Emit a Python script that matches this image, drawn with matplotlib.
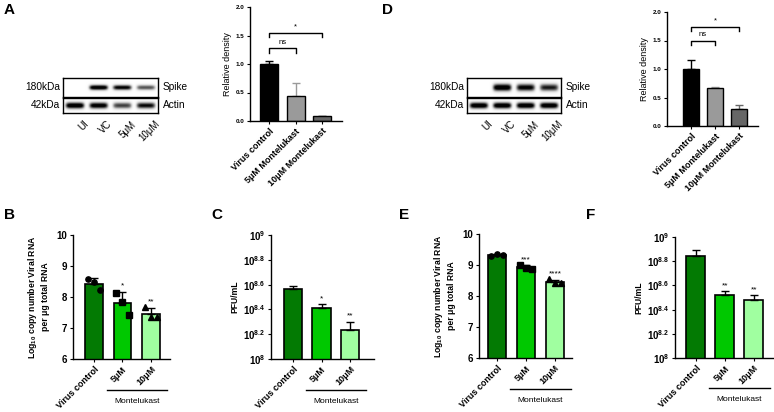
import numpy as np
import matplotlib
matplotlib.use("Agg")
import matplotlib.pyplot as plt
from matplotlib.transforms import blended_transform_factory

plt.rcParams['font.family'] = ['Liberation Sans', 'DejaVu Sans']
plt.rcParams['mathtext.fontset'] = 'custom'
plt.rcParams['mathtext.rm'] = 'Liberation Sans'
plt.rcParams['mathtext.bf'] = 'Liberation Sans:bold'

# western blot band intensities (UI, VC, 5uM, 10uM)
lanes = ['UI', 'VC', '5μM', '10μM']
spike_a = [0.0, 0.95, 0.85, 0.6]
actin_a = [0.95, 0.9, 0.65, 0.8]
spike_d = [0.0, 0.95, 0.85, 0.75]
actin_d = [0.95, 0.95, 0.95, 0.95]

# relative density
dens_groups = ['Virus control', '5μM Montelukast', '10μM Montelukast']
dens_a = [1.0, 0.43, 0.08]
dens_a_sd = [0.06, 0.23, 0.01]
dens_d = [1.0, 0.66, 0.29]
dens_d_sd = [0.16, 0.02, 0.07]

# viral RNA (log10 copies), one list per group
groups = ['Virus control', '5μM', '10μM']
rna_b = [[8.59, 8.48, 8.22], [8.14, 7.84, 7.41], [7.68, 7.36, 7.36]]
rna_e = [[9.30, 9.35, 9.31], [9.00, 8.91, 8.86], [8.54, 8.41, 8.41]]
sig_b = ['', '*', '**']
sig_e = ['', '***', '****']

# PFU/mL (log10 exponent)
pfu_c = [8.566, 8.41, 8.23]
pfu_c_sd = [0.02, 0.03, 0.07]
pfu_f = [8.84, 8.52, 8.48]
pfu_f_sd = [0.05, 0.03, 0.04]
sig_c = ['', '*', '**']
sig_f = ['', '**', '**']

greens = ['#037a03', '#00c800', '#a0ffa0']
greys = ['#000000', '#9a9a9a', '#666666']

W, H = 774, 412
fig = plt.figure(figsize=(W / 100, H / 100), dpi=100)


def box(x0, y0, x1, y1):
    return fig.add_axes([x0 / W, 1 - y1 / H, (x1 - x0) / W, (y1 - y0) / H])


def blot(x0, y0, x1, y1, vals, thick):
    ax = box(x0, y0, x1, y1)
    xs = np.linspace(-0.5, 3.5, 240)
    ys = np.linspace(0, 1, 40)
    X, Y = np.meshgrid(xs, ys)
    img = np.zeros_like(X)
    for i, v in enumerate(vals):
        img += v * np.exp(-((X - i) / 0.4) ** 6) * np.exp(-((Y - 0.5) / thick) ** 2)
    ax.imshow(img, cmap='Greys', vmin=0, vmax=0.8, extent=(-0.5, 3.5, 0, 1),
              aspect='auto', interpolation='bilinear')
    ax.set_xlim(-0.5, 3.5)
    ax.set_ylim(0, 1)
    ax.set_xticks([])
    ax.set_yticks([])
    for s in ax.spines.values():
        s.set_linewidth(1.0)
    return ax


def blot_panel(x0, x1, spike, actin, thick):
    top = blot(x0, 78, x1, 97, spike, thick)
    bot = blot(x0, 98, x1, 113, actin, 0.22)
    top.text(-0.62, 0.5, '180kDa', ha='right', va='center', fontsize=7.3)
    bot.text(-0.62, 0.5, '42kDa', ha='right', va='center', fontsize=7.3)
    top.text(3.7, 0.5, 'Spike', ha='left', va='center', fontsize=7.3)
    bot.text(3.7, 0.5, 'Actin', ha='left', va='center', fontsize=7.3)
    for i, lab in enumerate(lanes):
        bot.text(i + 0.35, -0.4, lab, rotation=45, ha='right', va='top',
                 rotation_mode='anchor', fontsize=7)


def style(ax, lw=1.0):
    for s in ['top', 'right']:
        ax.spines[s].set_visible(False)
    for s in ['left', 'bottom']:
        ax.spines[s].set_linewidth(lw)
    ax.tick_params(length=2.5, width=0.8, pad=1.5)


def dens_panel(ax, vals, sd, xlim, brackets):
    x = np.arange(3)
    ax.bar(x, vals, 0.68, color=greys, edgecolor='black', linewidth=1.0, zorder=2)
    for i in range(3):
        ax.errorbar(x[i], vals[i], yerr=[[0], [sd[i]]], fmt='none',
                    ecolor=greys[i], elinewidth=1.0, capsize=3, capthick=1.0, zorder=1)
    for i, j, y, lab in brackets:
        ax.plot([i, i, j, j], [y - 0.08, y, y, y - 0.08], color='black', lw=1.0)
        ax.text((i + j) / 2, y + 0.04, lab, ha='center', va='bottom', fontsize=5.5)
    ax.set_xlim(*xlim)
    ax.set_ylim(0, 2.0)
    ax.set_yticks([0, 0.5, 1.0, 1.5, 2.0])
    ax.set_yticklabels(['0.0', '0.5', '1.0', '1.5', '2.0'], fontsize=4.5, fontweight='bold')
    ax.set_xticks(x)
    ax.set_xticklabels(dens_groups, rotation=45, ha='right', rotation_mode='anchor',
                       fontsize=6.5, fontweight='bold')
    ax.set_ylabel('Relative density', fontsize=6.5, labelpad=3)
    style(ax)


def montelukast(ax, y_line, y_text):
    tr = blended_transform_factory(ax.transData, ax.transAxes)
    ax.plot([0.45, 2.55], [y_line, y_line], color='black', lw=1.0, transform=tr, clip_on=False)
    ax.text(1.5, y_text, 'Montelukast', transform=tr, ha='center', va='center', fontsize=6)


def rna_panel(ax, pts, sig, xlim):
    x = np.arange(3)
    means = [np.mean(p) for p in pts]
    sds = [np.std(p, ddof=1) for p in pts]
    ax.bar(x, means, 0.63, color=greens, edgecolor='black', linewidth=1.2, zorder=2)
    ax.errorbar(x, means, yerr=[np.zeros(3), sds], fmt='none', ecolor='black',
                elinewidth=1.0, capsize=3, capthick=1.0, zorder=3)
    markers = ['o', 's', '^']
    offs = np.linspace(-0.22, 0.22, 3)
    for i, p in enumerate(pts):
        ax.plot(x[i] + offs, p, markers[i], color='black', ms=3.8, zorder=4)
        ax.annotate(sig[i], (x[i], means[i] + sds[i]), xytext=(0, 1.5),
                    textcoords='offset points', ha='center', va='bottom', fontsize=6)
    ax.set_xlim(*xlim)
    ax.set_ylim(6, 10)
    ax.set_yticks([6, 7, 8, 9, 10])
    ax.set_yticklabels(['6', '7', '8', '9', '10'], fontsize=7, fontweight='bold')
    ax.set_xticks(x)
    ax.set_xticklabels(groups, rotation=45, ha='right', rotation_mode='anchor',
                       fontsize=6.5, fontweight='bold')
    ax.set_ylabel('Log$_{\\mathbf{10}}$ copy number Viral RNA\nper μg total RNA',
                  fontsize=6.2, fontweight='bold', labelpad=5)
    style(ax)
    montelukast(ax, -0.25, -0.34)


def pfu_panel(ax, vals, sd, sig, xlim):
    x = np.arange(3)
    v = 10 ** np.array(vals)
    top = 10 ** (np.array(vals) + np.array(sd))
    ax.set_yscale('log')
    ax.bar(x, v, 0.65, color=greens, edgecolor='black', linewidth=1.2, zorder=2)
    ax.errorbar(x, v, yerr=[np.zeros(3), top - v], fmt='none', ecolor='black',
                elinewidth=1.0, capsize=3, capthick=1.0, zorder=3)
    for i in range(3):
        ax.annotate(sig[i], (x[i], top[i]), xytext=(0, 1.5),
                    textcoords='offset points', ha='center', va='bottom', fontsize=6)
    ax.set_xlim(*xlim)
    ax.set_ylim(1e8, 1e9)
    exps = ['8', '8.2', '8.4', '8.6', '8.8', '9']
    ax.set_yticks([10 ** float(e) for e in exps])
    ax.set_yticklabels(['$\\mathbf{10^{%s}}$' % e for e in exps], fontsize=7)
    ax.minorticks_off()
    ax.set_xticks(x)
    ax.set_xticklabels(groups, rotation=45, ha='right', rotation_mode='anchor',
                       fontsize=6.5, fontweight='bold')
    ax.set_ylabel('PFU/mL', fontsize=6.2, fontweight='bold', labelpad=3)
    style(ax)
    montelukast(ax, -0.25, -0.34)


# top row
blot_panel(63, 158, spike_a, actin_a, 0.14)
blot_panel(467, 561, spike_d, actin_d, 0.2)
dens_panel(box(250, 7, 342, 121), dens_a, dens_a_sd, (-0.72, 2.75),
           [(0, 2, 1.55, '*'), (0, 1, 1.28, 'ns')])
dens_panel(box(667, 12, 758, 126), dens_d, dens_d_sd, (-1.0, 2.8),
           [(0, 2, 1.74, '*'), (0, 1, 1.50, 'ns')])

# bottom row
rna_panel(box(73, 235, 170, 359), rna_b, sig_b, (-0.74, 2.67))
pfu_panel(box(271, 235, 374, 359), pfu_c, pfu_c_sd, sig_c, (-0.77, 2.84))
rna_panel(box(479, 234, 572, 358), rna_e, sig_e, (-0.62, 2.59))
pfu_panel(box(675, 237, 773, 358), pfu_f, pfu_f_sd, sig_f, (-0.72, 2.66))

for lab, x, y in [('A', 4, 3), ('D', 382, 3), ('B', 4, 208), ('C', 211, 208),
                  ('E', 399, 208), ('F', 586, 208)]:
    fig.text(x / W, 1 - y / H, lab, fontsize=11, fontweight='bold', ha='left', va='top')

fig.savefig('out.png', dpi=100)
